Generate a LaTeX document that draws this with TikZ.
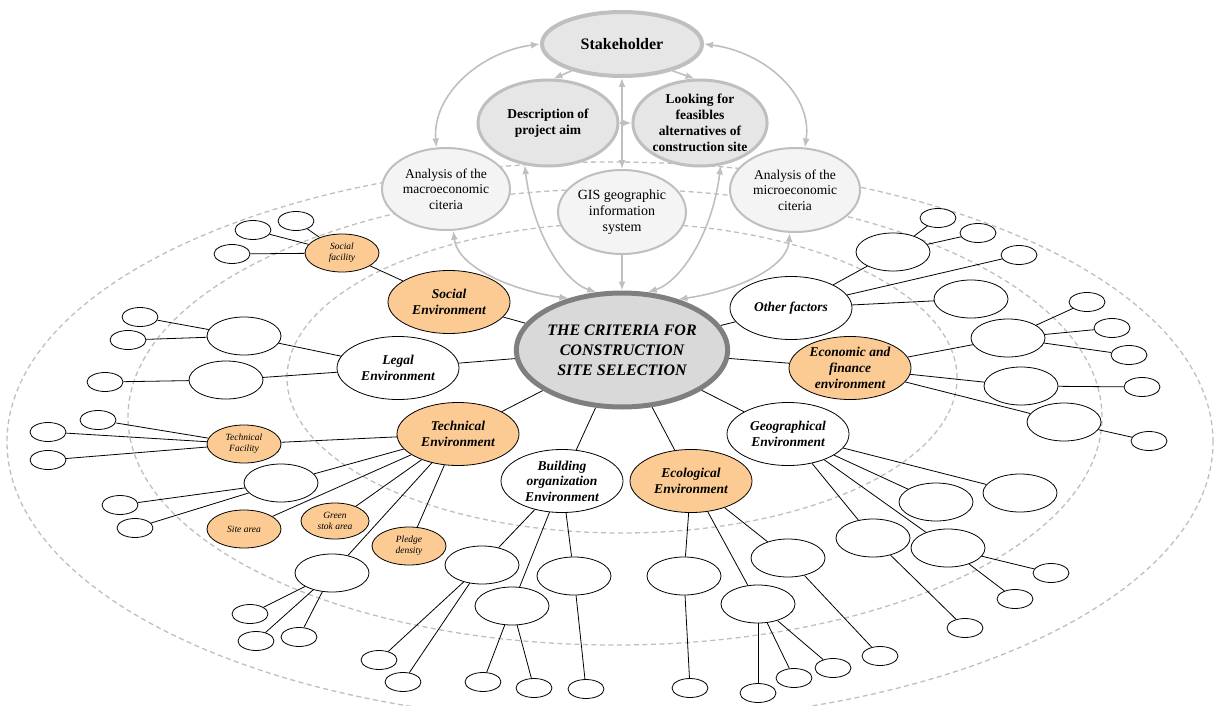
\documentclass[tikz,border=0pt]{standalone}
\usepackage{fontspec}
\setmainfont{Liberation Serif}
\usetikzlibrary{shapes.geometric,arrows.meta,backgrounds}
\definecolor{orng}{HTML}{FCCB94}
\definecolor{gborder}{HTML}{BFBFBF}
\definecolor{gfill}{HTML}{E6E6E6}
\definecolor{glight}{HTML}{F4F4F4}
\definecolor{critfill}{HTML}{D9D9D9}
\definecolor{critborder}{HTML}{7F7F7F}
\tikzset{
 lf/.style={ellipse, draw, fill=white, line width=0.8pt, minimum width=36pt, minimum height=19pt, inner sep=0pt},
 md/.style={ellipse, draw, fill=white, line width=0.8pt, minimum width=74pt, minimum height=38pt, inner sep=0pt, align=center, font=\fontsize{9.5}{10.7}\selectfont\itshape},
 og/.style={fill=orng},
 env/.style={ellipse, draw, fill=white, line width=0.8pt, minimum width=122pt, minimum height=63pt, inner sep=0pt, align=center, font=\fontsize{13.5}{16}\selectfont\bfseries\itshape},
 topn/.style={ellipse, draw=gborder, fill=gfill, line width=3pt, inner sep=0pt, align=center, font=\fontsize{13.5}{16.2}\selectfont\bfseries},
 topm/.style={ellipse, draw=gborder, fill=glight, line width=2pt, inner sep=0pt, align=center, font=\fontsize{13.5}{15.5}\selectfont},
 cn/.style={line width=0.8pt},
 dsh/.style={draw=gborder, line width=1.3pt, dash pattern=on 5pt off 3.5pt},
 garrow/.style={draw=gborder, line width=1.6pt, arrows={-Latex[length=9pt,width=7pt]}},
 garrows/.style={draw=gborder, line width=1.6pt, arrows={Latex[length=9pt,width=7pt]-Latex[length=9pt,width=7pt]}},
}
\begin{document}
\begin{tikzpicture}[x=1pt,y=-1pt]
\useasboundingbox (0,0) rectangle (1215,706);

% top nodes
\node[topn, line width=4pt, minimum width=160pt, minimum height=64pt, font=\fontsize{16}{18}\selectfont\bfseries] (stake) at (622,44) {Stakeholder};
\node[topn, minimum width=140pt, minimum height=86pt] (desc) at (548,123) {Description of\\project aim};
\node[topn, minimum width=134pt, minimum height=86pt, font=\fontsize{13.5}{15.8}\selectfont\bfseries] (look) at (700,123) {Looking for\\feasibles\\alternatives of\\construction site};
\node[topm, minimum width=128pt, minimum height=82pt] (macro) at (446,189) {Analysis of the\\macroeconomic\\citeria};
\node[topm, minimum width=128pt, minimum height=84pt, font=\fontsize{14}{16.3}\selectfont] (gis) at (622,212) {GIS geographic\\information\\system};
\node[topm, minimum width=130pt, minimum height=84pt] (micro) at (795,190) {Analysis of the\\microeconomic\\citeria};

% central node
\node[ellipse, draw=critborder, fill=critfill, line width=5pt, minimum width=210pt, minimum height=114pt, inner sep=0pt, align=center, font=\fontsize{16}{20}\selectfont\bfseries\itshape] (crit) at (622,350) {THE CRITERIA FOR\\CONSTRUCTION\\SITE SELECTION};

% environment nodes
\node[env, og] (social) at (449,302) {Social\\Environment};
\node[env] (legal) at (398,368) {Legal\\Environment};
\node[env, og] (tech) at (458,434) {Technical\\Environment};
\node[env, font=\fontsize{13.5}{15.5}\selectfont\bfseries\itshape] (build) at (562,481) {Building\\organization\\Environment};
\node[env, og] (eco) at (691,481) {Ecological\\Environment};
\node[env] (geo) at (788,434) {Geographical\\Environment};
\node[env, og] (econ) at (850,368) {Economic and\\finance\\environment};
\node[env] (other) at (791,308) {Other factors};

% mid nodes
\node[md, og] (fac) at (342,253) {Social\\facility};
\node[md] (A) at (244,336) {};
\node[md] (B) at (226,380) {};
\node[md, og] (tf) at (244,444) {Technical\\Facility};
\node[md] (C) at (281,483) {};
\node[md, og] (site) at (244,529) {Site area};
\node[md, og, minimum width=68pt, minimum height=36pt] (green) at (335,521) {Green\\stok area};
\node[md, og] (pledge) at (409,546) {Pledge\\density};
\node[md] (D) at (332,573) {};
\node[md] (E) at (482,565) {};
\node[md] (F) at (512,606) {};
\node[md] (G) at (574,576) {};
\node[md] (H) at (684,576) {};
\node[md] (I) at (758,604) {};
\node[md] (J) at (788,558) {};
\node[md] (K) at (873,538) {};
\node[md] (L) at (948,548) {};
\node[md] (M) at (936,502) {};
\node[md] (N) at (1020,493) {};
\node[md] (P) at (1008,338) {};
\node[md] (Q) at (1021,386) {};
\node[md] (R) at (1064,422) {};
\node[md] (S) at (893,252) {};
\node[md] (U) at (971,299) {};

% leaves
\node[lf] (s1) at (296,221) {};
\node[lf] (s2) at (253,230) {};
\node[lf] (s3) at (232,254) {};
\node[lf] (l1) at (140,317) {};
\node[lf] (l2) at (128,340) {};
\node[lf] (l3) at (105,382) {};
\node[lf] (t1) at (98,420) {};
\node[lf] (t2) at (48,432) {};
\node[lf] (t3) at (48,460) {};
\node[lf] (t4) at (120,505) {};
\node[lf] (t5) at (135,528) {};
\node[lf] (t6) at (250,614) {};
\node[lf] (t7) at (256,641) {};
\node[lf] (t8) at (299,637) {};
\node[lf] (b1) at (379,660) {};
\node[lf] (b2) at (403,682) {};
\node[lf] (b3) at (483,682) {};
\node[lf] (b4) at (534,688) {};
\node[lf] (b5) at (586,689) {};
\node[lf] (e1) at (690,688) {};
\node[lf] (e2) at (758,693) {};
\node[lf] (e3) at (794,678) {};
\node[lf] (e4) at (833,668) {};
\node[lf] (e5) at (880,656) {};
\node[lf] (g1) at (965,628) {};
\node[lf] (g2) at (1015,599) {};
\node[lf] (g3) at (1051,573) {};
\node[lf] (p1) at (1087,302) {};
\node[lf] (p2) at (1112,328) {};
\node[lf] (p3) at (1129,355) {};
\node[lf] (q1) at (1142,387) {};
\node[lf] (r1) at (1149,441) {};
\node[lf] (o1) at (938,218) {};
\node[lf] (o2) at (978,233) {};
\node[lf] (o3) at (1019,255) {};

\begin{scope}[on background layer]
 % dashed rings
 \draw[dsh] (622,378) ellipse [x radius=335pt, y radius=155pt];
 \draw[dsh] (615,417) ellipse [x radius=487pt, y radius=228pt];
 \draw[dsh] (610,442) ellipse [x radius=603pt, y radius=280pt];
 % gray arrows
 \draw[garrows] (stake.west) .. controls (480,52) and (432,95) .. (macro.103);
 \draw[garrows] (stake.east) .. controls (765,52) and (813,95) .. (micro.77);
 \draw[garrow] (stake.208) -- (desc.83);
 \draw[garrow] (stake.332) -- (look.97);
 \draw[garrows] (stake.south) -- (gis.north);
 \draw[garrow] (desc.east) -- (look.west);
 \draw[garrows] (macro.280) .. controls (458,270) and (520,292) .. (crit.136);
 \draw[garrows] (desc.241) .. controls (533,235) and (565,282) .. (crit.114);
 \draw[garrow] (gis.south) -- (crit.north);
 \draw[garrows] (look.296) .. controls (712,235) and (680,282) .. (crit.66);
 \draw[garrows] (micro.263) .. controls (787,270) and (730,292) .. (crit.42);
 % black connectors
 \foreach \a/\b in {crit/social,crit/legal,crit/tech,crit/build,crit/eco,crit/geo,crit/econ,crit/other,
   social/fac,fac/s1,fac/s2,fac/s3,
   legal/A,legal/B,A/l1,A/l2,B/l3,
   tech/tf,tf/t1,tf/t2,tf/t3,tech/C,C/t4,C/t5,tech/site,tech/green,tech/pledge,tech/D,D/t6,D/t7,D/t8,
   build/E,build/F,build/G,E/b1,E/b2,F/b3,F/b4,G/b5,
   eco/H,eco/I,eco/J,H/e1,I/e2,I/e3,I/e4,J/e5,
   geo/K,geo/L,geo/M,geo/N,K/g1,L/g2,L/g3,
   econ/P,econ/Q,econ/R,P/p1,P/p2,P/p3,Q/q1,R/r1,
   other/S,other/U,other/o3,S/o1,S/o2}
   \draw[cn] (\a) -- (\b);
\end{scope}
\end{tikzpicture}
\end{document}
